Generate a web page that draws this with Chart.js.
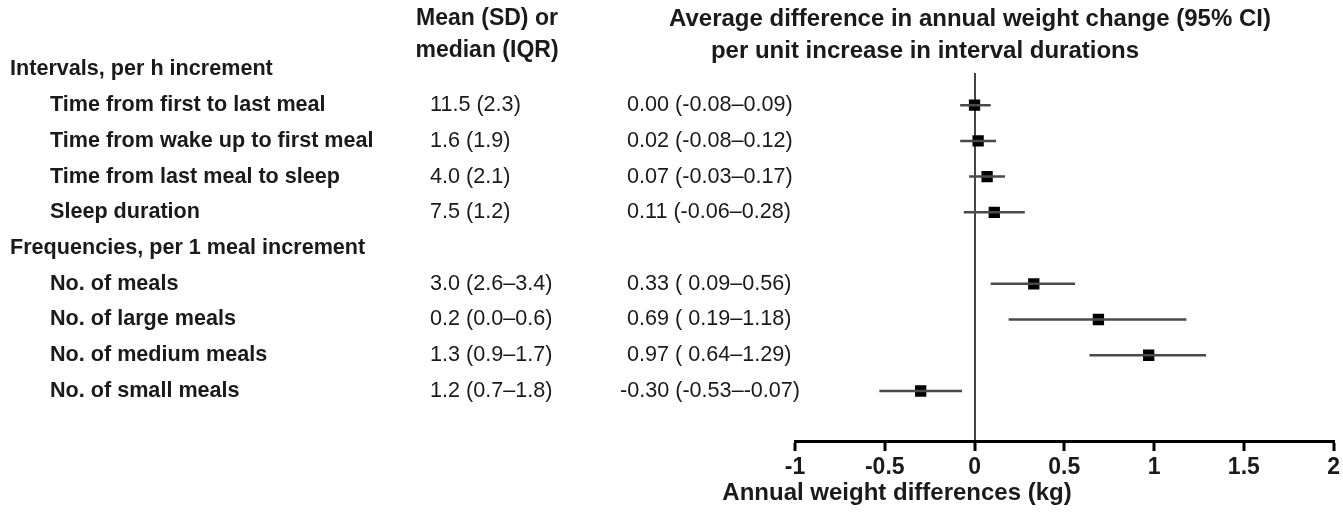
<!DOCTYPE html>
<html>
<head>
<meta charset="utf-8">
<script src="https://cdn.jsdelivr.net/npm/chart.js@4"></script>
<style>
  html, body { margin: 0; padding: 0; background: #fff; }
  #wrap { width: 1343px; height: 513px; position: relative; }
</style>
</head>
<body>
<div id="wrap"><canvas id="forest"></canvas></div>
<script>
// table data
var groupNames = ['Intervals, per h increment', 'Frequencies, per 1 meal increment'];
var groupRows = [0, 5];
var itemLabels = [
    'Time from first to last meal',
    'Time from wake up to first meal',
    'Time from last meal to sleep',
    'Sleep duration',
    'No. of meals',
    'No. of large meals',
    'No. of medium meals',
    'No. of small meals'
];
var itemRows = [1, 2, 3, 4, 6, 7, 8, 9];
var meanText = ['11.5 (2.3)', '1.6 (1.9)', '4.0 (2.1)', '7.5 (1.2)',
    '3.0 (2.6\u20133.4)', '0.2 (0.0\u20130.6)', '1.3 (0.9\u20131.7)', '1.2 (0.7\u20131.8)'];
var estimate = [0.00, 0.02, 0.07, 0.11, 0.33, 0.69, 0.97, -0.30];
var ciLow = [-0.08, -0.08, -0.03, -0.06, 0.09, 0.19, 0.64, -0.53];
var ciHigh = [0.09, 0.12, 0.17, 0.28, 0.56, 1.18, 1.29, -0.07];
var xTickValues = [-1, -0.5, 0, 0.5, 1, 1.5, 2];
var xTickLabels = ['-1', '-0.5', '0', '0.5', '1', '1.5', '2'];

var textColor = '#1a1a1a';
var fontFam = '"Liberation Sans", Arial, sans-serif';

function ciLabel(i) {
    var lo = ciLow[i].toFixed(2);
    return estimate[i].toFixed(2) + ' (' + (ciLow[i] >= 0 ? ' ' : '') + lo + '\u2013' + ciHigh[i].toFixed(2) + ')';
}

// error bars, one line per row
var datasets = itemRows.map(function(r, i) {
    return {
        type: 'line',
        data: [{ x: ciLow[i], y: r }, { x: ciHigh[i], y: r }],
        borderColor: '#4a4a4a',
        borderWidth: 2.5,
        pointRadius: 0,
        fill: false
    };
});
datasets.push({
    type: 'scatter',
    data: itemRows.map(function(r, i) { return { x: estimate[i], y: r }; }),
    pointStyle: 'rect',
    pointRadius: 8,
    pointHoverRadius: 8,
    backgroundColor: '#000',
    borderColor: '#000',
    borderWidth: 0
});

// draws the text columns next to the plot
const tablePlugin = {
    id: 'tableText',
    afterDraw: function(chart) {
        var ctx = chart.ctx;
        var ys = chart.scales.y;
        ctx.save();
        ctx.fillStyle = textColor;
        ctx.textBaseline = 'middle';

        ctx.font = 'bold 23px ' + fontFam;
        ctx.textAlign = 'center';
        ctx.fillText('Mean (SD) or', 487, 19);
        ctx.fillText('median (IQR)', 487, 51);
        ctx.font = 'bold 24px ' + fontFam;
        ctx.fillText('Average difference in annual weight change (95% CI)', 970, 19);
        ctx.fillText('per unit increase in interval durations', 925, 51);
        // x axis title
        ctx.fillText('Annual weight differences (kg)', 897, 493);

        ctx.textAlign = 'left';
        ctx.font = 'bold 21.6px ' + fontFam;
        groupNames.forEach(function(g, k) {
            ctx.fillText(g, 10, ys.getPixelForValue(groupRows[k]));
        });
        itemLabels.forEach(function(l, i) {
            ctx.fillText(l, 50, ys.getPixelForValue(itemRows[i]));
        });

        ctx.font = '21.6px ' + fontFam;
        meanText.forEach(function(t, i) {
            var y = ys.getPixelForValue(itemRows[i]);
            ctx.fillText(t, 430, y);
            ctx.fillText(ciLabel(i), estimate[i] < 0 ? 620 : 627, y);
        });
        ctx.restore();
    }
};

const forestCtx = document.getElementById('forest');
window.myForest = new Chart(forestCtx, {
    type: 'scatter',
    data: { datasets: datasets },
    options: {
        responsive: true,
        maintainAspectRatio: false,
        animation: false,
        layout: { padding: { top: 73, left: 795, right: 8, bottom: 0 } },
        plugins: {
            legend: { display: false },
            tooltip: { enabled: false }
        },
        scales: {
            x: {
                type: 'linear',
                min: -1,
                max: 2,
                afterBuildTicks: function(scale) {
                    scale.ticks = xTickValues.map(function(v) { return { value: v }; });
                },
                afterFit: function(scale) { scale.height = 72; },
                border: { display: true, color: '#000', width: 3 },
                grid: {
                    drawOnChartArea: true,
                    color: function(c) { return c.tick && c.tick.value === 0 ? '#444' : 'rgba(0,0,0,0)'; },
                    lineWidth: 2,
                    tickColor: '#000',
                    tickWidth: 3,
                    tickLength: 10
                },
                ticks: {
                    color: textColor,
                    padding: 3,
                    maxRotation: 0,
                    callback: function(v, idx) { return xTickLabels[idx]; },
                    font: { family: fontFam, size: 23, weight: 'bold' }
                },
                title: { display: false }
            },
            y: {
                type: 'linear',
                display: false,
                reverse: true,
                min: 0.1,
                max: 10.4
            }
        }
    },
    plugins: [tablePlugin]
});
</script>
</body>
</html>
